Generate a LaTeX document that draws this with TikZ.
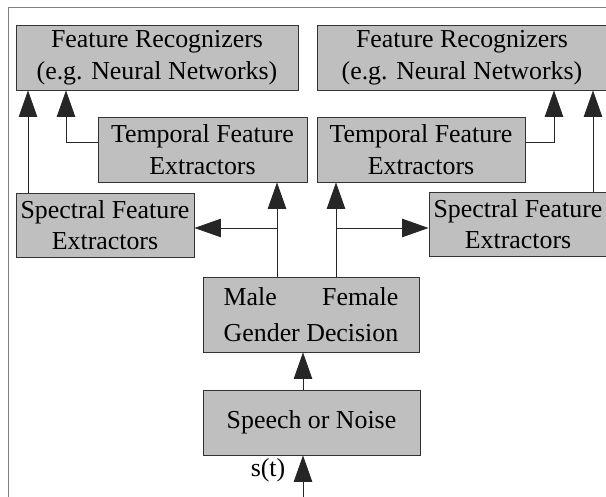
\documentclass[tikz,border=0pt]{standalone}
\usepackage{fontspec}
\setmainfont{Liberation Serif}
\usetikzlibrary{arrows.meta}
\tikzset{
  boite/.style={draw=black!80, line width=0.6pt, fill=black!25, inner sep=0pt,
    align=center, font=\fontsize{18.4}{22.5}\selectfont},
  fleche/.style={draw=black!85, line width=0.6pt,
    -{Triangle[length=0.66cm, width=0.46cm]}}
}
\begin{document}
\begin{tikzpicture}[x=0.025cm, y=-0.025cm]
  \useasboundingbox (0,0) rectangle (606,497);
  % Cadre
  \draw[gray, line width=0.7pt] (8,497) -- (8,7) -- (606,7);
  % Reconnaisseurs
  \node[boite, minimum width=7.05cm, minimum height=1.625cm] (frL) at (157,57.5)
    {Feature Recognizers\\(e.g. Neural Networks)};
  \node[boite, minimum width=7.225cm, minimum height=1.625cm] (frR) at (462,57.5)
    {Feature Recognizers\\(e.g. Neural Networks)};
  % Extracteurs temporels
  \node[boite, minimum width=5.225cm, minimum height=1.625cm] (tmL) at (202.5,149.5)
    {Temporal Feature\\Extractors};
  \node[boite, minimum width=5.2cm, minimum height=1.625cm] (tmR) at (421,149.5)
    {Temporal Feature\\Extractors};
  % Extracteurs spectraux
  \node[boite, minimum width=4.45cm, minimum height=1.6cm] (spL) at (105,225)
    {Spectral Feature\\Extractors};
  \node[boite, minimum width=4.45cm, minimum height=1.6cm] (spR) at (518,224)
    {Spectral Feature\\Extractors};
  % Decision et detection
  \node[boite, minimum width=5.4cm, minimum height=1.875cm] (gd) at (311,314.5)
    {Male\hspace{1.75em}Female\\[3pt]Gender Decision};
  \node[boite, minimum width=5.425cm, minimum height=1.625cm] (sn) at (311.5,422.5)
    {Speech or Noise};
  \node[font=\fontsize{18.4}{22.5}\selectfont] (st) at (268,470) {s(t)};
  % Points de branchement
  \coordinate (in) at (303,497);
  \coordinate (bl) at (277,228);
  \coordinate (br) at (336,228);
  \coordinate (kl) at (66,142);
  \coordinate (kr) at (554,142);
  \coordinate (vl) at (28,0);
  \coordinate (vr) at (593,0);
  % Fleches
  \draw[fleche] (in) -- (in |- sn.south);
  \draw[fleche] (sn.north -| in) -- (gd.south -| in);
  \draw[fleche] (gd.north -| bl) -- (tmL.south -| bl);
  \draw[fleche] (bl) -- (bl -| spL.east);
  \draw[fleche] (gd.north -| br) -- (tmR.south -| br);
  \draw[fleche] (br) -- (br -| spR.west);
  \draw[fleche] (kl -| tmL.west) -- (kl) -- (kl |- frL.south);
  \draw[fleche] (kr -| tmR.east) -- (kr) -- (kr |- frR.south);
  \draw[fleche] (spL.north -| vl) -- (frL.south -| vl);
  \draw[fleche] (spR.north -| vr) -- (frR.south -| vr);
\end{tikzpicture}
\end{document}
